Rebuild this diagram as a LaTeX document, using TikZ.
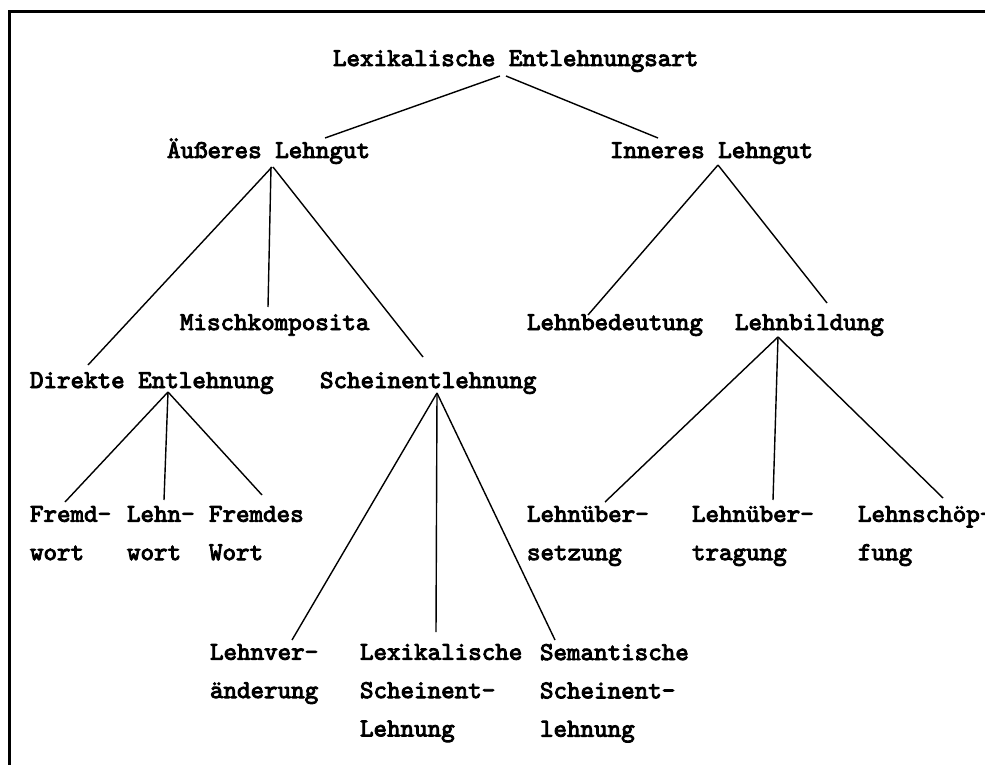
\documentclass[tikz,border=0pt]{standalone}
\usepackage{fontspec}
\usepackage{tikz}
\usetikzlibrary{calc}
\newfontfamily\lehntt{lmmono10-regular.otf}[FakeBold=3.5]
\tikzset{
  term/.style={inner sep=0pt,outer sep=0pt,align=left,
               font=\fontsize{22}{32.7}\selectfont\lehntt},
  single/.style={term,anchor=base west},
  multi/.style={term,anchor=north west},
  branch/.style={black,line width=1.2pt},
  rim/.style={black,line width=2.5pt},
}
\begin{document}
\begin{tikzpicture}[x=0.03cm,y=-0.03cm]
  \useasboundingbox (0,0) rectangle (985,765);
  \draw[rim] (9.5,765) -- (9.5,11.2) -- (985,11.2);

  % levels one to three
  \node[single] (root)    at (333,66)  {Lexikalische Entlehnungsart};
  \node[single] (aeuss)   at (167,158) {Äußeres Lehngut};
  \node[single] (inneres) at (610,158) {Inneres Lehngut};
  \node[single] (misch)   at (180,330) {Mischkomposita};
  \node[single] (bedeut)  at (527,330) {Lehnbedeutung};
  \node[single] (bildung) at (735,330) {Lehnbildung};
  \node[single] (direkt)  at (30,388)  {Direkte Entlehnung};
  \node[single] (schein)  at (320,388) {Scheinentlehnung};

  % leaves
  \node[multi] (fremdw)    at (30,506)  {Fremd-\\wort};
  \node[multi] (lehnw)     at (127,506) {Lehn-\\wort};
  \node[multi] (fremdes)   at (209,506) {Fremdes\\Wort};
  \node[multi] (uebers)    at (527,506) {Lehnüber-\\setzung};
  \node[multi] (uebertr)   at (692,506) {Lehnüber-\\tragung};
  \node[multi] (schoepf)   at (858,506) {Lehnschöp-\\fung};
  \node[multi] (verand)    at (210,644) {Lehnver-\\änderung};
  \node[multi] (lexschein) at (360,644) {Lexikalische\\Scheinent-\\Lehnung};
  \node[multi] (semschein) at (540,644) {Semantische\\Scheinent-\\lehnung};

  \draw[branch] ($(root.base west)+(167,10)$) -- ($(aeuss.base west)+(158,-20)$);
  \draw[branch] ($(root.base west)+(173,10)$) -- ($(inneres.base west)+(48,-20)$);

  \draw[branch] ($(aeuss.base west)+(105,9)$) -- ($(direkt.base west)+(58,-23)$);
  \draw[branch] ($(aeuss.base west)+(104,9)$) -- ($(misch.base west)+(88,-23)$);
  \draw[branch] ($(aeuss.base west)+(106,9)$) -- ($(schein.base west)+(103,-31)$);

  \draw[branch] ($(inneres.base west)+(108,7)$) -- ($(bedeut.base west)+(61,-15)$);
  \draw[branch] ($(inneres.base west)+(108,7)$) -- ($(bildung.base west)+(92,-27)$);

  \draw[branch] ($(direkt.base west)+(138,4)$) -- ($(fremdw.north west)+(35,-4)$);
  \draw[branch] ($(direkt.base west)+(138,4)$) -- ($(lehnw.north west)+(37,-6)$);
  \draw[branch] ($(direkt.base west)+(138,4)$) -- ($(fremdes.north west)+(53,-11)$);

  \draw[branch] ($(schein.base west)+(117,5)$) -- ($(verand.north west)+(82,-4)$);
  \draw[branch] ($(schein.base west)+(117,5)$) -- ($(lexschein.north west)+(76,-12)$);
  \draw[branch] ($(schein.base west)+(117,5)$) -- ($(semschein.north west)+(15,-4)$);

  \draw[branch] ($(bildung.base west)+(43,7)$) -- ($(uebers.north west)+(78,-4)$);
  \draw[branch] ($(bildung.base west)+(43,7)$) -- ($(uebertr.north west)+(81,-6)$);
  \draw[branch] ($(bildung.base west)+(43,7)$) -- ($(schoepf.north west)+(85,-8)$);
\end{tikzpicture}
\end{document}
